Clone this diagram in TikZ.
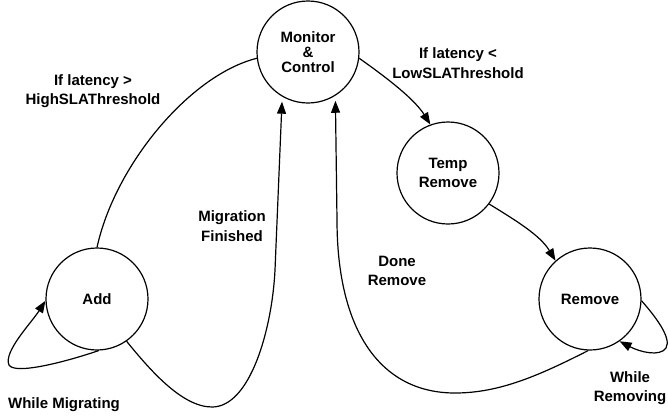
\documentclass[tikz,border=0pt]{standalone}
\usepackage{fontspec}
\setmainfont{Liberation Sans}
\usetikzlibrary{arrows.meta}
\begin{document}
\begin{tikzpicture}[x=1pt,y=-1pt,
  state/.style={circle,draw,line width=1.2pt,minimum size=102pt,inner sep=0pt,
    align=center,font=\fontsize{15}{19.5}\selectfont\bfseries},
  lbl/.style={align=center,inner sep=0pt,font=\fontsize{15}{19.5}\selectfont\bfseries},
  link/.style={line width=1.2pt},
  arr/.style={link,-{Triangle[length=12pt,width=9pt]}}]
\useasboundingbox (0,0) rectangle (668,418);

% states
\node[state] (mon) at (308,52) {\raisebox{-4pt}{\shortstack{Monitor\\[1pt]\&\\[1pt]Control}}};
\node[state] (tmp) at (448,173) {Temp\\Remove};
\node[state] (add) at (97,299) {Add};
\node[state] (rem) at (590,299) {Remove};

% transitions
\draw[link] (add.90) .. controls (115,165) and (190,75) .. (mon.187);
\draw[arr,shorten >=5pt] (add.-55) .. controls (150,370) and (182,407) .. (212,407)
  .. controls (250,407) and (272,330) .. (275,270) -- (mon.-120);
\draw[arr] (mon.-7) .. controls (390,80) and (415,100) .. (tmp.110);
\draw[arr] (tmp.-37) .. controls (515,220) and (540,235) .. (rem.132);
\draw[arr,shorten >=5pt] (rem.-92) .. controls (540,375) and (500,393) .. (455,393)
  .. controls (380,393) and (337,330) .. (337,220) -- (mon.-58);
\draw[arr] (add.-88) .. controls (65,362) and (15,375) .. (9,365)
  .. controls (3,352) and (32,322) .. (add.182);
\draw[arr] (rem.-2) .. controls (655,316) and (672,338) .. (666,348)
  .. controls (660,357) and (640,352) .. (rem.-55);

% transition labels
\node[lbl] (l1) at (93,91) {If latency >\\HighSLAThreshold};
\node[lbl] (l2) at (232,226) {Migration\\Finished};
\node[lbl] (l3) at (458,63) {If latency <\\LowSLAThreshold};
\node[lbl] (l4) at (397,271) {Done\\Remove};
\node[lbl] (l5) at (64,405) {While Migrating};
\node[lbl] (l6) at (630,388) {While\\Removing};
\end{tikzpicture}
\end{document}
